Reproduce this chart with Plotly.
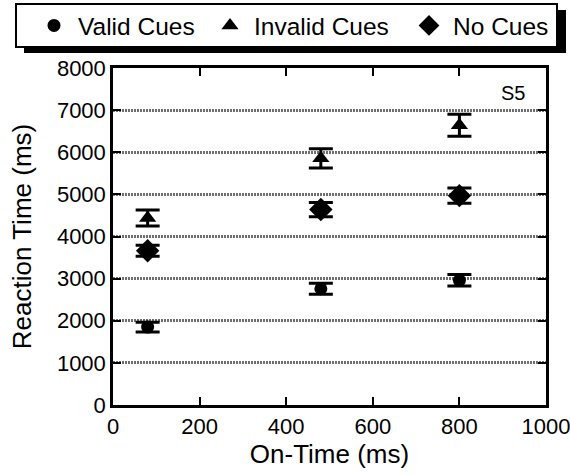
import plotly.graph_objects as go

on_time = [80, 480, 800]
valid = [1850, 2760, 2960]
valid_err = [115, 128, 135]
invalid = [4440, 5855, 6640]
invalid_err = [190, 230, 260]
nocue = [3660, 4640, 4970]
nocue_err = [130, 170, 180]
series_names = ["Valid Cues", "Invalid Cues", "No Cues"]

FONT = "Liberation Sans, Arial, Helvetica, sans-serif"

W, H = 570, 475
L, R, T, B = 113, 24, 68, 70
PW, PH = W - L - R, H - T - B


def px_x(p):
    return (p - L) / PW


def px_y(p):
    return (H - B - p) / PH


fig = go.Figure()
specs = [(valid, valid_err, "circle", 13, 123),
         (invalid, invalid_err, "triangle-up", 15, 146),
         (nocue, nocue_err, "diamond", 18, 96)]
for name, (vals, errs, sym, sz, lw) in zip(series_names, specs):
    fig.add_trace(go.Scatter(
        x=on_time, y=vals, mode="markers", name=name,
        marker=dict(symbol=sym, size=sz, color="black"),
        error_y=dict(type="data", array=errs, visible=True,
                     color="black", thickness=3, width=12),
        legendwidth=lw,
    ))

axis_common = dict(
    showline=True, linecolor="black", linewidth=2.5, mirror="ticks",
    ticks="inside", ticklen=8, tickwidth=2, tickcolor="black",
    tickfont=dict(family=FONT, size=22, color="black"),
    zeroline=False, ticklabeloverflow="allow",
)
fig.update_xaxes(range=[0, 1000], tickvals=[0, 200, 400, 600, 800, 1000],
                 showgrid=False,
                 title=dict(text="On-Time (ms)", font=dict(family=FONT, size=26, color="black"), standoff=6),
                 **axis_common)
fig.update_yaxes(range=[0, 8000], tickvals=list(range(0, 8001, 1000)),
                 showgrid=True, gridcolor="#6e6e6e", gridwidth=3, griddash="2px,1px",
                 title=dict(text="Reaction Time (ms)", font=dict(family=FONT, size=26, color="black"), standoff=18),
                 **axis_common)

# legend frame with drop shadow
fig.add_shape(type="rect", xref="paper", yref="paper",
              x0=px_x(24), x1=px_x(566), y0=px_y(53), y1=px_y(10),
              fillcolor="black", line=dict(width=0), layer="above")
fig.add_shape(type="rect", xref="paper", yref="paper",
              x0=px_x(16), x1=px_x(557), y0=px_y(47), y1=px_y(4),
              fillcolor="white", line=dict(color="black", width=2), layer="above")

fig.add_annotation(text="S5", xref="paper", yref="paper", x=px_x(527), y=px_y(80),
                   xanchor="right", yanchor="top", showarrow=False,
                   font=dict(family=FONT, size=20, color="black"))

fig.update_layout(
    width=W, height=H,
    margin=dict(l=L, r=R, t=T, b=B, autoexpand=False),
    paper_bgcolor="white", plot_bgcolor="white",
    showlegend=True,
    legend=dict(orientation="h", xref="paper", yref="paper",
                x=px_x(30), y=px_y(25.5), xanchor="left", yanchor="middle",
                bgcolor="rgba(0,0,0,0)", borderwidth=0, itemwidth=38,
                font=dict(family=FONT, size=24.5, color="black")),
    font=dict(family=FONT, color="black"),
)

fig.write_html("out.html", config={"displayModeBar": False},
               post_script="document.body.style.margin='0px';")
